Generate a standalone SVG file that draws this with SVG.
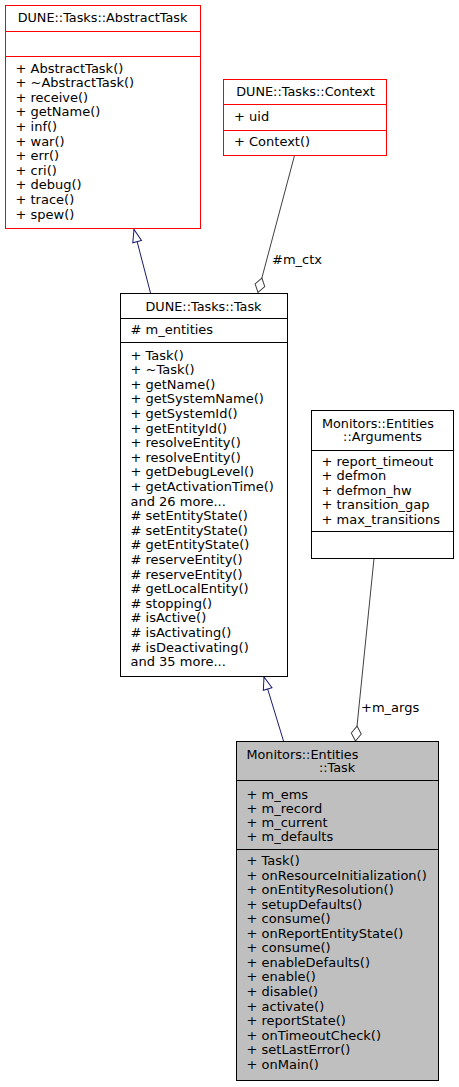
<svg xmlns="http://www.w3.org/2000/svg" width="459" height="1087" viewBox="0 0 459 1087">
<style>
text{font-family:"DejaVu Sans","Noto Sans",sans-serif;font-size:13px;fill:#000}
.h{font-size:12.8px}
.m{text-anchor:middle}
.red{fill:#fff;stroke:#ff0000;stroke-width:1}
.blk{fill:#fff;stroke:#000;stroke-width:1}
.main{fill:#bfbfbf;stroke:#000;stroke-width:1}
.sr{stroke:#ff0000;stroke-width:1}
.sb{stroke:#000;stroke-width:1}
.inh{fill:none;stroke:#191970;stroke-width:1}
.comp{fill:none;stroke:#404040;stroke-width:1}
</style>
<defs>
<marker id="tri" markerUnits="userSpaceOnUse" markerWidth="16" markerHeight="12" viewBox="-1 -1 16 12" refX="12.5" refY="4.5" orient="auto" overflow="visible">
<path d="M0,0 L12.5,4.5 L0,9 Z" fill="#fff" stroke="#191970" stroke-width="1"/>
</marker>
<marker id="dia" markerUnits="userSpaceOnUse" markerWidth="18" markerHeight="12" viewBox="-1 -1 18 12" refX="15" refY="5" orient="auto" overflow="visible">
<path d="M0,5 L7.5,0 L15,5 L7.5,10 Z" fill="#fff" stroke="#404040" stroke-width="1"/>
</marker>
</defs>
<rect width="459" height="1087" fill="#fff"/>
<g id="connectors">
<path class="inh" d="M150.5,293 L134,229.5" marker-end="url(#tri)"/>
<path class="inh" d="M283.5,741 L264,677" marker-end="url(#tri)"/>
<path class="comp" d="M294.5,155.5 L258,292.5" marker-end="url(#dia)"/>
<text x="272" y="264">#m_ctx</text>
<path class="comp" d="M374,558.5 L355.5,741" marker-end="url(#dia)"/>
<text x="361" y="711.5">+m_args</text>
</g>
<g id="AbstractTask">
<rect class="red" x="5.5" y="5.5" width="195" height="223"/>
<line class="sr" x1="5.5" y1="31.5" x2="200.5" y2="31.5"/>
<line class="sr" x1="5.5" y1="56.5" x2="200.5" y2="56.5"/>
<text class="m h" x="102.5" y="22">DUNE::Tasks::AbstractTask</text>
<text x="15.5" y="72.5"><tspan x="15.5">+ AbstractTask()</tspan><tspan x="15.5" dy="14.6">+ ~AbstractTask()</tspan><tspan x="15.5" dy="14.6">+ receive()</tspan><tspan x="15.5" dy="14.6">+ getName()</tspan><tspan x="15.5" dy="14.6">+ inf()</tspan><tspan x="15.5" dy="14.6">+ war()</tspan><tspan x="15.5" dy="14.6">+ err()</tspan><tspan x="15.5" dy="14.6">+ cri()</tspan><tspan x="15.5" dy="14.6">+ debug()</tspan><tspan x="15.5" dy="14.6">+ trace()</tspan><tspan x="15.5" dy="14.6">+ spew()</tspan></text>
</g>
<g id="Context">
<rect class="red" x="223.5" y="79.5" width="163" height="76"/>
<line class="sr" x1="223.5" y1="104.5" x2="386.5" y2="104.5"/>
<line class="sr" x1="223.5" y1="130.5" x2="386.5" y2="130.5"/>
<text class="m h" x="305.5" y="96">DUNE::Tasks::Context</text>
<text x="234" y="120.7">+ uid</text>
<text x="234" y="146">+ Context()</text>
</g>
<g id="Task">
<rect class="blk" x="120.5" y="293.5" width="167" height="383"/>
<line class="sb" x1="120.5" y1="318.5" x2="287.5" y2="318.5"/>
<line class="sb" x1="120.5" y1="342.5" x2="287.5" y2="342.5"/>
<text class="m h" x="203.5" y="311">DUNE::Tasks::Task</text>
<text x="130.5" y="334.3"># m_entities</text>
<text x="130.5" y="359.5"><tspan x="130.5">+ Task()</tspan><tspan x="130.5" dy="14.6">+ ~Task()</tspan><tspan x="130.5" dy="14.6">+ getName()</tspan><tspan x="130.5" dy="14.6">+ getSystemName()</tspan><tspan x="130.5" dy="14.6">+ getSystemId()</tspan><tspan x="130.5" dy="14.6">+ getEntityId()</tspan><tspan x="130.5" dy="14.6">+ resolveEntity()</tspan><tspan x="130.5" dy="14.6">+ resolveEntity()</tspan><tspan x="130.5" dy="14.6">+ getDebugLevel()</tspan><tspan x="130.5" dy="14.6">+ getActivationTime()</tspan><tspan x="130.5" dy="14.6">and 26 more...</tspan><tspan x="130.5" dy="14.6"># setEntityState()</tspan><tspan x="130.5" dy="14.6"># setEntityState()</tspan><tspan x="130.5" dy="14.6"># getEntityState()</tspan><tspan x="130.5" dy="14.6"># reserveEntity()</tspan><tspan x="130.5" dy="14.6"># reserveEntity()</tspan><tspan x="130.5" dy="14.6"># getLocalEntity()</tspan><tspan x="130.5" dy="14.6"># stopping()</tspan><tspan x="130.5" dy="14.6"># isActive()</tspan><tspan x="130.5" dy="14.6"># isActivating()</tspan><tspan x="130.5" dy="14.6"># isDeactivating()</tspan><tspan x="130.5" dy="14.6">and 35 more...</tspan></text>
</g>
<g id="Arguments">
<rect class="blk" x="311.5" y="410.5" width="142" height="148"/>
<line class="sb" x1="311.5" y1="450.5" x2="453.5" y2="450.5"/>
<line class="sb" x1="311.5" y1="531.5" x2="453.5" y2="531.5"/>
<text class="h" x="322" y="427.5">Monitors::Entities</text>
<text class="m h" x="382.5" y="441">::Arguments</text>
<text x="321.5" y="465.5"><tspan x="321.5">+ report_timeout</tspan><tspan x="321.5" dy="14.6">+ defmon</tspan><tspan x="321.5" dy="14.6">+ defmon_hw</tspan><tspan x="321.5" dy="14.6">+ transition_gap</tspan><tspan x="321.5" dy="14.6">+ max_transitions</tspan></text>
</g>
<g id="MonitorsTask">
<rect class="main" x="236.5" y="741.5" width="202" height="339"/>
<line class="sb" x1="236.5" y1="780.5" x2="438.5" y2="780.5"/>
<line class="sb" x1="236.5" y1="849.5" x2="438.5" y2="849.5"/>
<text class="h" x="246.5" y="758.5">Monitors::Entities</text>
<text class="m h" x="337" y="771.5">::Task</text>
<text x="246.5" y="798.5"><tspan x="246.5">+ m_ems</tspan><tspan x="246.5" dy="14.3">+ m_record</tspan><tspan x="246.5" dy="14.3">+ m_current</tspan><tspan x="246.5" dy="14.3">+ m_defaults</tspan></text>
<text x="246.5" y="865"><tspan x="246.5">+ Task()</tspan><tspan x="246.5" dy="14.55">+ onResourceInitialization()</tspan><tspan x="246.5" dy="14.55">+ onEntityResolution()</tspan><tspan x="246.5" dy="14.55">+ setupDefaults()</tspan><tspan x="246.5" dy="14.55">+ consume()</tspan><tspan x="246.5" dy="14.55">+ onReportEntityState()</tspan><tspan x="246.5" dy="14.55">+ consume()</tspan><tspan x="246.5" dy="14.55">+ enableDefaults()</tspan><tspan x="246.5" dy="14.55">+ enable()</tspan><tspan x="246.5" dy="14.55">+ disable()</tspan><tspan x="246.5" dy="14.55">+ activate()</tspan><tspan x="246.5" dy="14.55">+ reportState()</tspan><tspan x="246.5" dy="14.55">+ onTimeoutCheck()</tspan><tspan x="246.5" dy="14.55">+ setLastError()</tspan><tspan x="246.5" dy="14.55">+ onMain()</tspan></text>
</g>
</svg>
